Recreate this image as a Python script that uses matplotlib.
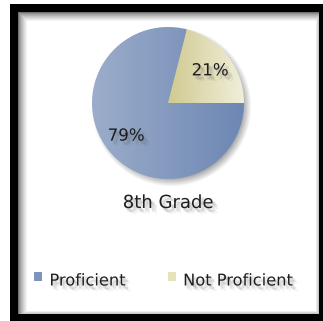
import numpy as np
import matplotlib

matplotlib.use("Agg")
import matplotlib.pyplot as plt
import matplotlib.patheffects as pe
from matplotlib.patches import Patch, Rectangle
from matplotlib.legend_handler import HandlerPatch

# figure is laid out in pixel units
W, H = 323, 321

categories = ["Proficient", "Not Proficient"]
values = [79, 21]
title = "8th Grade"

colors_left = ["#9badca", "#d0ca90"]
colors_right = ["#6d87b3", "#f1efdb"]
legend_colors = ["#7d94bc", "#e6e2bb"]

cx, cy, radius = 168, H - 103, 76


def soft_shadow():
    shadow = [pe.SimplePatchShadow(offset=(dx, dy), shadow_rgbFace="#555555", alpha=0.07)
              for dx, dy in [(1, -1), (2, -2), (3, -3), (2, -3), (3, -2), (4, -4), (1.5, -2.5)]]
    return shadow + [pe.Normal()]


def raised_square(legend, orig_handle, xdescent, ydescent, width, height, fontsize):
    # legend swatch sits near the cap height of the label
    return Rectangle((-xdescent, -ydescent + 2.5), width, height)


def frame_background():
    yy, xx = np.mgrid[0:H, 0:W]
    img = np.ones((H, W))
    outer = (xx >= 10) & (yy >= 4)
    inner = (xx >= 18) & (xx < 319) & (yy >= 12) & (yy < 314)
    img[outer] = 0.0
    shade_l = np.clip((xx - 18) / 9.0, 0, 1) ** 0.7
    shade_t = np.clip((yy - 12) / 9.0, 0, 1) ** 0.7
    shade_r = np.clip((318 - xx) / 3.0, 0, 1)
    shade_b = np.clip((313 - yy) / 3.0, 0, 1)
    shade = 0.45 + 0.55 * np.minimum(np.minimum(shade_l, shade_t), np.minimum(shade_r, shade_b) * 0.4 + 0.6)
    img[inner] = shade[inner]
    return np.dstack([img] * 3)


fig = plt.figure(figsize=(W / 100, H / 100), dpi=100)
ax = fig.add_axes([0, 0, 1, 1])
ax.imshow(frame_background(), extent=(0, W, 0, H), origin="upper", zorder=0, interpolation="nearest")

# soft drop shadow behind the pie
yy, xx = np.mgrid[0:H, 0:W]
dist = np.hypot(xx - (cx + 3), (H - yy) - (cy - 3))
alpha = np.clip((radius + 4 - dist) / 9.0, 0, 1) * 0.55
shadow = np.zeros((H, W, 4))
shadow[..., :3] = 0.35
shadow[..., 3] = alpha
ax.imshow(shadow, extent=(0, W, 0, H), origin="upper", zorder=0.5)

wedges, _, autotexts = ax.pie(
    values,
    startangle=values[1] * 3.6,
    counterclock=True,
    center=(cx, cy),
    radius=radius,
    autopct="%d%%",
    pctdistance=0.7,
    textprops=dict(fontsize=12, color="#1e1e1e"),
    wedgeprops=dict(linewidth=0),
)

# horizontal gradient fill clipped to each wedge
for wedge, c0, c1 in zip(wedges, colors_left, colors_right):
    wedge.set_facecolor("none")
    x0 = cx - radius if wedge.theta2 - wedge.theta1 > 180 else cx
    ramp = np.linspace(0, 1, 256)[None, :, None]
    rgb0 = np.array(matplotlib.colors.to_rgb(c0))
    rgb1 = np.array(matplotlib.colors.to_rgb(c1))
    grad = rgb0 + (rgb1 - rgb0) * ramp
    im = ax.imshow(grad, extent=(x0, cx + radius, cy - radius, cy + radius), aspect="auto", zorder=1.5)
    im.set_clip_path(wedge)

for t in autotexts:
    t.set_path_effects(soft_shadow())

ax.text(cx, H - 203, title, ha="center", va="center", fontsize=13, color="#1e1e1e",
        path_effects=soft_shadow())

handles = [Patch(facecolor=c, edgecolor="none") for c in legend_colors]
leg = ax.legend(handles, categories, ncol=2, frameon=False, loc="center left",
                bbox_to_anchor=(34, H - 281), bbox_transform=ax.transData,
                fontsize=11.7, handlelength=0.5, handleheight=0.5, handletextpad=0.45,
                columnspacing=2.6, borderpad=0, borderaxespad=0,
                handler_map={Patch: HandlerPatch(patch_func=raised_square)})
for t in leg.get_texts():
    t.set_color("#1e1e1e")
    t.set_path_effects(soft_shadow())

ax.set_xlim(0, W)
ax.set_ylim(0, H)
ax.axis("off")
fig.savefig("out.png", dpi=100)
